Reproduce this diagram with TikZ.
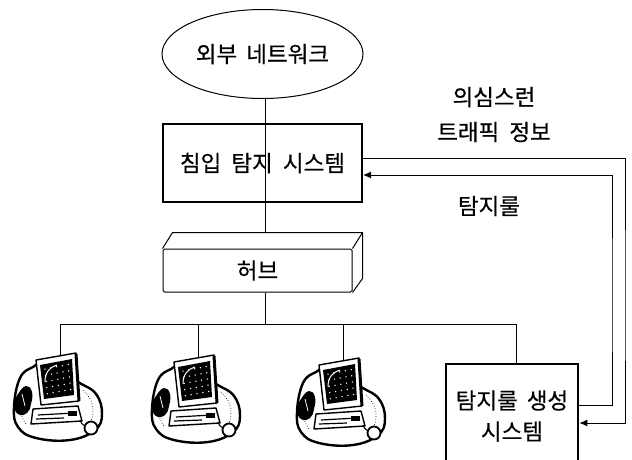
\documentclass[tikz,border=0pt]{standalone}
\usepackage{fontspec}
\newfontfamily\kr[FakeBold=0.5]{Noto Sans CJK KR}
\usetikzlibrary{shapes.geometric,arrows.meta,calc}

\tikzset{
  txt/.style={font=\kr\fontsize{22.5}{31}\selectfont, inner sep=0pt},
  wire/.style={line width=1},
  flow/.style={line width=1, -{Latex[length=8,width=7]}},
  % desktop computer clip-art
  pc/.pic={
    % cloud-shaped backdrop
    \draw[line width=2.4, fill=white, line join=round]
      plot[smooth cycle, tension=0.7] coordinates {
        (-44,7) (-38,-22) (-25,-33) (-12,-36) (20,-18) (38,-6)
        (44,14) (37,30) (12,40) (-22,38) (-40,27)};
    \draw[dotted, line width=0.7] (25,-10) .. controls (36,0) and (38,12) .. (31,26);
    \draw[dotted, line width=0.7] (-38,-8) .. controls (-40,4) and (-38,16) .. (-32,24);
    % keyboard / base unit
    \draw[line width=1.4, fill=white, line join=round]
      (-25,9) -- (20,6) -- (24,21) -- (-27,24) -- cycle;
    \draw[line width=1.2] (-20,15) -- (16,13);
    \draw[line width=1.2] (-22,19) -- (6,18);
    \fill (10,11) rectangle (19,16);
    % monitor
    \draw[line width=1.4, fill=white, line join=round]
      (-22,-40) -- (18,-47) -- (21,1) -- (-17,5) -- cycle;
    \draw[line width=3] (18,-46) -- (21,1);
    \fill (-18,-35) -- (14,-41) -- (16,-5) -- (-14,-1) -- cycle;
    \foreach \i in {0,...,4}
      \foreach \j in {0,...,4}
        \fill[white] ($(-13,-31)+\i*(5.8,-1.1)+\j*(0.6,6.2)$) circle (0.75);
    \draw[white, line width=1] (-13,-18) .. controls (-13,-28) and (-8,-33) .. (-1,-35);
    \coordinate (-top) at (2,-44);
    % hand at the left
    \fill[line join=round]
      plot[smooth cycle, tension=0.8] coordinates {
        (-40,-6) (-32,-14) (-26,-8) (-27,4) (-31,13) (-40,14) (-44,4)};
    \draw[white, line width=0.8] (-36,-6) -- (-33,6);
    % mouse
    \draw[line width=1.8, fill=white] (33,28) circle (6.5);
    \draw[line width=1] (27,26) .. controls (24,24) and (22,22) .. (22,20);
  }
}

\begin{document}
\begin{tikzpicture}[x=1pt,y=-1pt]
\useasboundingbox (0,0) rectangle (632,459);
\clip (0,0) rectangle (632,459);

% network elements
\node[draw, ellipse, line width=1, minimum width=201, minimum height=89, txt]
  (net) at (262.5,54) {외부\hspace{0.4em}네트워크};
\node[draw, line width=2, minimum width=199, minimum height=78, txt]
  (ids) at (262.5,163) {침입\hspace{0.45em}탐지\hspace{0.45em}시스템};
\node[draw, line width=1, minimum width=189, minimum height=43, rounded corners=1.5, txt]
  (hub) at (257.5,270.5) {허브};
\draw[line width=1, line join=round]
  (hub.north west) -- ++(10,-16) coordinate (hubtop)
  -- ($(hub.north east)+(10,-16)$) -- ($(hub.south east)+(10,-14)$) -- (hub.south east);
\draw[line width=1] (hub.north east) -- ++(10,-16);
\node[draw, line width=2.6, minimum width=132, minimum height=104, align=center, txt]
  (gen) at (512,416) {탐지룰\hspace{0.4em}생성\\시스템};

% hosts
\pic (pc1) at (58,400) {pc};
\pic (pc2) at (196,402) {pc};
\pic (pc3) at (341,405) {pc};

% backbone
\coordinate (busL) at (60,324);
\coordinate (busR) at (516,324);
\coordinate (axis) at (265,0);
\draw[wire] (net.south -| axis) -- (ids.south -| axis |- ids.north);
\draw[wire] (ids.south -| axis) -- (axis |- hubtop);
\draw[wire] (axis |- hub.south) -- (axis |- busL);
\draw[wire] (pc1-top) -- (pc1-top |- busL) -- (busR) -- (gen.north -| busR);
\draw[wire] (pc2-top) -- (pc2-top |- busL);
\draw[wire] (pc3-top) -- (pc3-top |- busL);

% rule exchange loop
\coordinate (outer) at (625,300);
\coordinate (inner) at (612,300);
\draw[flow] ([yshift=5pt]ids.east) -| (outer) |- ([yshift=-7pt]gen.east);
\draw[flow] ([yshift=11pt]gen.east) -| (inner) |- ([yshift=-12pt]ids.east);

% labels
\node[txt] (lab1) at (494,97) {의심스런};
\node[txt] (lab2) at (494,132) {트래픽\hspace{0.45em}정보};
\node[txt] (lab3) at (489,206) {탐지룰};
\end{tikzpicture}
\end{document}
